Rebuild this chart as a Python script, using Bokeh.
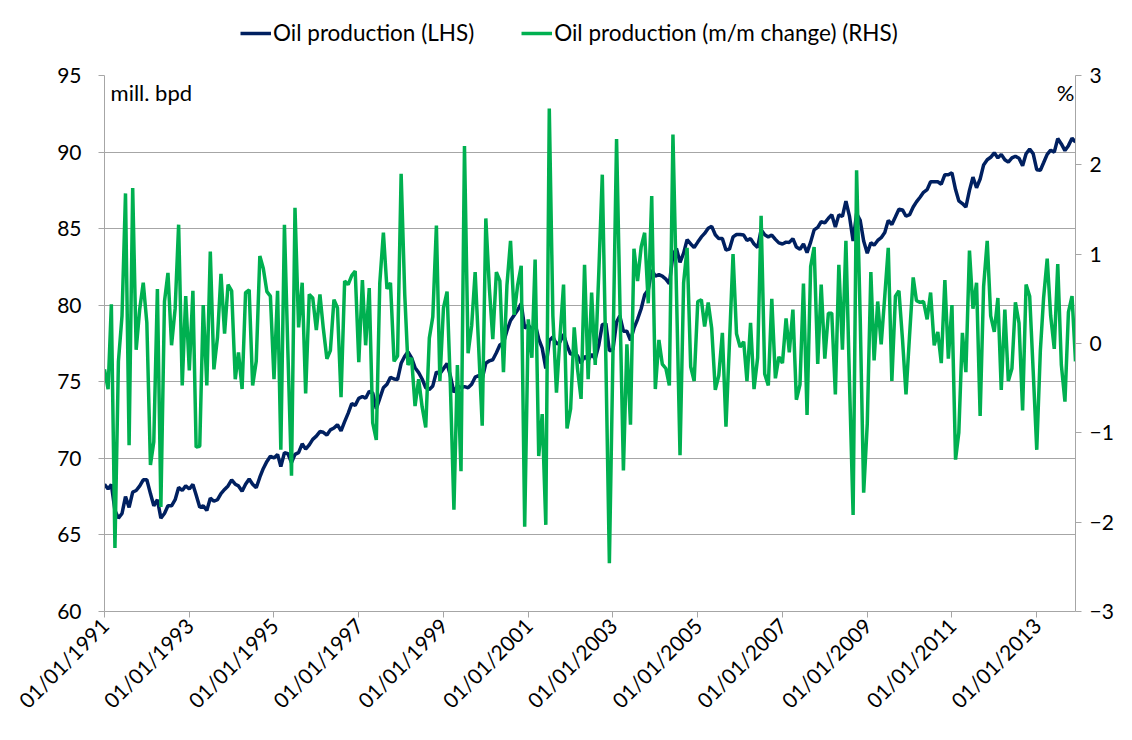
import math
from datetime import datetime
import pandas as pd
from bokeh.plotting import figure
from bokeh.layouts import column
from bokeh.models import (Range1d, LinearAxis, FixedTicker, DatetimeTickFormatter,
                          Legend, LegendItem, Label)
from bokeh.embed import file_html
from bokeh.resources import INLINE

# ---------------- data ----------------
first_month = "1991-01-01"
tick_years = list(range(1991, 2014, 2))
left_ticks = [60, 65, 70, 75, 80, 85, 90, 95]
right_ticks = [-3, -2, -1, 0, 1, 2, 3]
series_names = ["Oil production (LHS)", "Oil production (m/m change) (RHS)"]

oil_production = [
    68.3, 68.0, 68.3, 66.6, 66.1, 66.4, 67.5, 66.8, 67.8, 67.9, 68.2, 68.6,
    68.6, 67.7, 66.9, 67.3, 66.1, 66.4, 66.9, 66.9, 67.3, 68.1, 67.9, 68.2,
    68.0, 68.3, 67.6, 66.8, 66.9, 66.6, 67.4, 67.2, 67.3, 67.7, 67.97, 68.20,
    68.59, 68.31, 68.20, 67.85, 68.31, 68.65, 68.31, 68.08, 68.77, 69.34, 69.80, 70.14,
    70.03, 70.26, 69.46, 70.37, 70.30, 69.73, 70.26, 70.37, 70.95, 70.60, 70.88, 71.24,
    71.45, 71.75, 71.70, 71.52, 71.86, 71.98, 72.20, 71.80, 72.40, 72.94, 73.58, 73.46,
    73.92, 74.04, 73.92, 74.38, 74.27, 73.24, 73.92, 74.61, 74.84, 75.30, 75.18, 75.14,
    76.21, 76.67, 76.95, 76.56, 75.92, 75.60, 75.18, 74.61, 74.50, 74.73, 75.64, 75.53,
    75.86, 76.19, 75.40, 74.30, 74.73, 74.61, 74.68, 74.61, 74.84, 75.30, 75.41, 75.20,
    76.21, 76.37, 76.44, 76.90, 77.40, 77.55, 78.33, 79.00, 79.35, 79.68, 80.11, 78.50,
    78.70, 78.39, 78.80, 77.80, 77.20, 75.87, 77.70, 77.93, 77.47, 77.60, 78.10, 77.36,
    76.79, 76.90, 76.70, 76.21, 76.67, 76.40, 76.80, 76.50, 77.40, 78.73, 78.80, 77.02,
    77.10, 78.90, 79.30, 78.30, 78.30, 77.70, 78.50, 79.08, 79.77, 80.68, 81.00, 82.30,
    81.90, 82.00, 81.90, 81.70, 81.40, 83.30, 83.70, 82.80, 83.40, 84.28, 84.00, 83.77,
    84.12, 84.46, 84.69, 85.03, 85.15, 84.60, 84.35, 84.35, 83.61, 83.66, 84.46, 84.62,
    84.62, 84.58, 84.23, 84.35, 84.00, 83.77, 84.92, 84.60, 84.46, 84.58, 84.30, 84.07,
    84.00, 84.12, 84.10, 84.35, 83.80, 83.66, 84.00, 83.43, 84.12, 84.92, 85.08, 85.45,
    85.38, 85.68, 85.90, 85.10, 85.90, 85.80, 86.80, 85.80, 84.19, 85.99, 85.54, 84.19,
    83.40, 84.08, 83.92, 84.23, 84.41, 84.75, 85.54, 85.27, 85.77, 86.26, 86.22, 85.81,
    85.91, 86.41, 86.75, 87.05, 87.37, 87.55, 88.06, 88.06, 88.06, 87.90, 88.52, 88.52,
    88.65, 87.55, 86.82, 86.64, 86.41, 87.50, 88.36, 87.67, 88.24, 89.16, 89.50, 89.66,
    89.95, 89.62, 89.85, 89.50, 89.34, 89.62, 89.73, 89.60, 89.10, 89.89, 90.19, 89.90,
    88.85, 88.81, 89.30, 89.85, 90.12, 90.00, 90.88, 90.53, 90.10, 90.42, 90.90, 90.65,
]

mm_change = [
    -0.29, -0.51, 0.44, -2.29, -0.20, 0.31, 1.68, -1.14, 1.74, -0.07, 0.39, 0.68,
    0.23, -1.36, -1.10, 0.61, -1.83, 0.47, 0.79, -0.02, 0.39, 1.33, -0.47, 0.53,
    -0.30, 0.59, -1.16, -1.15, 0.43, -0.47, 1.03, -0.29, 0.07, 0.78, 0.11, 0.66,
    0.59, -0.40, -0.10, -0.51, 0.57, 0.60, -0.47, -0.20, 0.98, 0.84, 0.58, 0.53,
    -0.40, 0.59, -1.19, 1.33, -0.10, -1.48, 1.52, 0.18, 0.68, -0.56, 0.55, 0.51,
    0.15, 0.55, 0.17, -0.17, -0.08, 0.49, 0.40, -0.60, 0.70, 0.66, 0.76, 0.81,
    -0.21, 0.71, -0.02, 0.62, -0.89, -1.08, 0.68, 1.24, 0.61, 0.68, -0.20, -0.14,
    1.90, 0.55, -0.24, -0.16, -0.70, -0.40, -0.71, -0.94, 0.06, 0.30, 1.32, -0.42,
    0.40, 0.58, -0.45, -1.86, -0.24, -1.43, 2.21, -0.11, 0.20, 0.80, -0.06, -0.92,
    1.40, 0.61, 0.05, 0.80, 0.70, -0.32, 0.65, 1.15, 0.32, 0.65, 0.87, -2.05,
    0.27, -0.16, 0.94, -1.26, -0.79, -2.03, 2.63, 0.31, -0.55, 0.07, 0.66, -0.95,
    -0.73, 0.18, -0.28, -0.62, 0.88, -0.40, 0.57, -0.24, 0.80, 1.89, -0.20, -2.46,
    -0.10, 2.29, 0.50, -1.42, -0.01, -0.91, 1.06, 0.70, 1.08, 1.24, 0.45, 1.65,
    -0.51, 0.04, -0.23, -0.28, -0.47, 2.34, 0.60, -1.25, 0.68, 1.07, -0.26, -0.42,
    0.47, 0.49, 0.19, 0.46, 0.17, -0.52, -0.36, 0.12, -0.93, 0.00, 1.00, 0.11,
    -0.04, 0.02, -0.42, 0.23, -0.51, -0.16, 1.43, -0.34, -0.47, 0.50, -0.39, -0.15,
    -0.22, 0.28, -0.10, 0.38, -0.63, -0.46, 0.67, -0.80, 0.86, 1.08, -0.23, 0.66,
    -0.17, 0.34, 0.34, -0.57, 0.88, -0.07, 1.15, -0.44, -1.92, 1.94, 0.30, -1.67,
    -0.90, 0.80, -0.19, 0.47, -0.01, 0.53, 1.07, -0.42, 0.53, 0.59, 0.04, -0.57,
    0.10, 0.74, 0.48, 0.46, 0.47, 0.27, 0.57, -0.02, 0.13, -0.22, 0.71, -0.17,
    0.43, -1.30, -1.00, 0.12, -0.32, 1.04, 0.39, 0.68, -0.81, 0.64, 1.15, 0.31,
    0.13, 0.51, -0.52, 0.38, -0.42, -0.28, 0.46, 0.23, -0.75, 0.66, 0.53, -0.30,
    -1.19, -0.08, 0.51, 0.95, 0.31, -0.06, 0.89, -0.24, -0.65, 0.35, 0.53, -0.20,
]

months = pd.date_range(first_month, periods=len(oil_production), freq="MS")

NAVY = "#002060"
GREEN = "#00B050"
GRID = "#a6a6a6"
FONT = "Lato"
W = 1116
LEGEND_H = 60

# ---------------- legend strip ----------------
lf = figure(width=W, height=LEGEND_H, x_axis_type=None, y_axis_type=None,
            output_backend="svg", toolbar_location=None,
            x_range=Range1d(0, 1), y_range=Range1d(0, 1),
            min_border=0)
lf.title.visible = False
lf.outline_line_color = None
lf.grid.visible = False
# one-point lines: they draw nothing themselves, only the legend samples
l_navy = lf.line(x=[0.5], y=[0.5], line_color=NAVY, line_width=3.5)
l_green = lf.line(x=[0.5], y=[0.5], line_color=GREEN, line_width=3.5)
legend = Legend(items=[LegendItem(label=series_names[0], renderers=[l_navy]),
                       LegendItem(label=series_names[1], renderers=[l_green])],
                orientation="horizontal", location=(136, 14))
legend.border_line_color = None
legend.background_fill_alpha = 0
legend.padding = 0
legend.margin = 0
legend.spacing = 47
legend.glyph_width = 31
legend.glyph_height = 20
legend.label_standoff = 2
legend.label_text_font = FONT
legend.label_text_font_size = "22.5px"
legend.label_text_color = "black"
lf.add_layout(legend, "center")

# ---------------- main chart ----------------
p = figure(width=W, height=724 - LEGEND_H, x_axis_type="datetime",
           output_backend="svg", toolbar_location=None,
           x_range=Range1d(months[0], months[-1]), y_range=Range1d(60, 95),
           min_border_left=104, min_border_right=34,
           min_border_top=15, min_border_bottom=113)
p.title.visible = False
p.outline_line_color = None
p.background_fill_color = "white"
p.border_fill_color = "white"

p.extra_y_ranges = {"pct": Range1d(-3, 3)}

p.yaxis.ticker = FixedTicker(ticks=left_ticks)
tick_ms = [datetime(y, 1, 1).timestamp() * 1000 for y in tick_years]
p.xaxis.ticker = FixedTicker(ticks=tick_ms)
fmt = "%d/%m/%Y"
p.xaxis.formatter = DatetimeTickFormatter(
    microseconds=fmt, milliseconds=fmt, seconds=fmt, minsec=fmt, minutes=fmt,
    hourmin=fmt, hours=fmt, days=fmt, months=fmt, years=fmt)
p.xaxis.major_label_orientation = math.pi / 4

right_axis = LinearAxis(y_range_name="pct", ticker=FixedTicker(ticks=right_ticks))
p.add_layout(right_axis, "right")

for ax in [p.xaxis[0], p.yaxis[0], right_axis]:
    ax.axis_line_color = GRID
    ax.axis_line_width = 1
    ax.major_tick_line_color = GRID
    ax.major_tick_in = 0
    ax.major_tick_out = 6
    ax.minor_tick_line_color = None
    ax.major_label_text_font = FONT
    ax.major_label_text_font_size = "21px"
    ax.major_label_text_color = "black"
    ax.major_label_standoff = 6
p.yaxis[0].major_label_standoff = 17
right_axis.major_label_standoff = 8
p.xaxis.major_label_standoff = 4

p.xgrid.visible = False
p.ygrid.grid_line_color = GRID
p.ygrid.grid_line_width = 1

p.line(months, oil_production, line_color=NAVY, line_width=3.5)
p.line(months, mm_change, line_color=GREEN, line_width=3.5, y_range_name="pct")

x_left = (months[0] + pd.Timedelta(days=52)).value / 1e6
x_right = (months[0] + pd.Timedelta(days=8360)).value / 1e6
p.add_layout(Label(x=x_left, y=93.9, text="mill. bpd", text_font=FONT,
                   text_font_size="22px", text_baseline="middle",
                   text_color="black"))
p.add_layout(Label(x=x_right, y=93.9, text="%", text_font=FONT,
                   text_font_size="22px", text_baseline="middle",
                   text_align="right", text_color="black"))

layout = column(lf, p, spacing=0)
open("out.html", "w").write(file_html(layout, INLINE))
